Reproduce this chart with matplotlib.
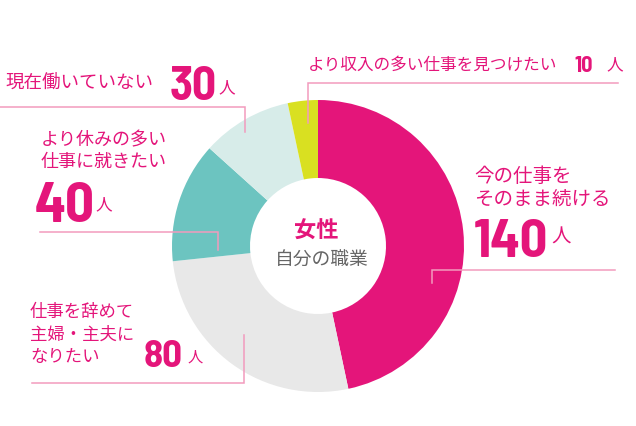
import matplotlib
matplotlib.use('Agg')
import matplotlib.pyplot as plt

# data (women, current job situation)
labels = ['今の仕事を\nそのまま続ける', '仕事を辞めて\n主婦・主夫に\nなりたい',
          'より休みの多い\n仕事に就きたい', '現在働いていない', 'より収入の多い仕事を見つけたい']
counts = [140, 80, 40, 30, 10]
colors = ['#e4157a', '#e8e8e8', '#6cc4c0', '#d7ece9', '#d9e021']

PINK = '#e4157a'
LINE = '#f29bbd'
JP = ['Noto Sans CJK JP', 'DejaVu Sans']
NUM = ['Barlow Semi Condensed', 'Roboto']

W, H = 636, 426
fig = plt.figure(figsize=(W / 100, H / 100), dpi=100)
ax = fig.add_axes([0, 0, 1, 1])


def Y(y):
    # image pixel row -> data y
    return H - y


ax.pie(counts, colors=colors, startangle=90, counterclock=False,
       center=(318, Y(246)), radius=146,
       wedgeprops=dict(width=78, linewidth=0))
ax.set_xlim(0, W)
ax.set_ylim(0, H)
ax.set_aspect('equal')
ax.axis('off')

# center text
ax.text(316, Y(231), '女性', color=PINK, fontsize=16, fontweight='bold',
        family=JP, ha='center', va='center')
ax.text(322, Y(260), '自分の職業', color='#666666', fontsize=13.5,
        family=JP, ha='center', va='center')

# leader lines
leaders = [
    [(308, 123), (308, 83), (618, 83)],
    [(432, 283), (432, 270), (615, 270)],
    [(0, 107), (245, 107), (245, 132)],
    [(40, 232), (218, 232), (218, 250)],
    [(32, 383), (244, 383), (244, 335)],
]
for pts in leaders:
    ax.plot([p[0] for p in pts], [Y(p[1]) for p in pts], color=LINE,
            lw=1.1, solid_joinstyle='miter', zorder=3)


def label_lines(x, y0, text, size, gap):
    for i, line in enumerate(text.split('\n')):
        ax.text(x, Y(y0 + i * gap), line, color=PINK, fontsize=size,
                family=JP, ha='left', va='center')


def number(x, base, n, size, px, py, psize):
    ax.text(x, Y(base), str(n), color=PINK, fontsize=size, fontweight='bold',
            family=NUM, ha='left', va='baseline')
    ax.text(px, Y(py), '人', color=PINK, fontsize=psize, family=JP,
            ha='left', va='center')


# 140
label_lines(474, 177, labels[0], 14, 22)
number(474, 257, counts[0], 39, 551, 237, 14)
# 80
label_lines(30, 312, labels[1], 12.5, 22.5)
number(144, 367, counts[1], 28, 188, 357, 11)
# 40
label_lines(41, 140, labels[2], 13, 22)
number(35, 222, counts[2], 41, 95, 205, 12)
# 30
label_lines(5, 83, labels[3], 13.3, 22)
number(170, 100, counts[3], 34, 218, 88, 12)
# 10
label_lines(308, 65, labels[4], 12, 22)
number(574, 72, counts[4], 16, 606, 65, 12)

fig.savefig('out.png', dpi=100)
